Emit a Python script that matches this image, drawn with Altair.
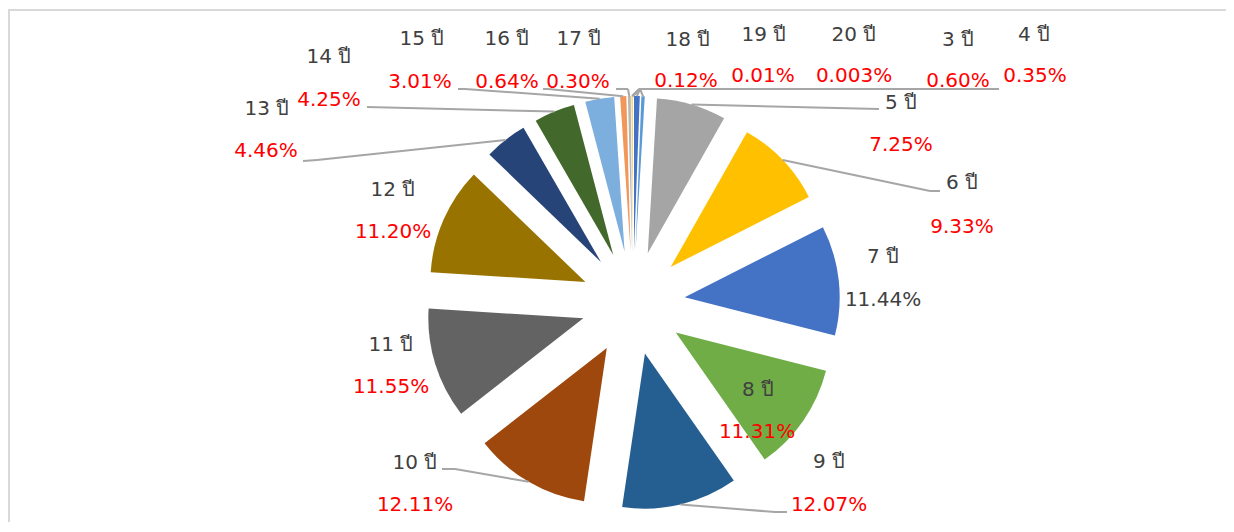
import altair as alt
import pandas as pd

# ---- data ----
categories = ["3 ปี", "4 ปี", "5 ปี", "6 ปี", "7 ปี", "8 ปี", "9 ปี", "10 ปี", "11 ปี",
              "12 ปี", "13 ปี", "14 ปี", "15 ปี", "16 ปี", "17 ปี", "18 ปี", "19 ปี", "20 ปี"]
values = [0.60, 0.35, 7.25, 9.33, 11.44, 11.31, 12.07, 12.11, 11.55,
          11.20, 4.46, 4.25, 3.01, 0.64, 0.30, 0.12, 0.01, 0.003]
pct_labels = ["0.60%", "0.35%", "7.25%", "9.33%", "11.44%", "11.31%", "12.07%", "12.11%", "11.55%",
              "11.20%", "4.46%", "4.25%", "3.01%", "0.64%", "0.30%", "0.12%", "0.01%", "0.003%"]

# ---- styles ----
colors = ["#4472C4", "#5B9BD5", "#A5A5A5", "#FFC000", "#4472C4", "#70AD47", "#255E91", "#9E480E",
          "#636363", "#997300", "#264478", "#43682B", "#7CAFDD", "#F1975A", "#B7B7B7", "#FFCD33",
          "#7CAFDD", "#8CC168"]
pct_colors = ["#FF0000"] * 18
pct_colors[4] = "#404040"

# ---- layout (page pixel positions of labels / leader ends) ----
OFF = 8
name_xy = [(958, 40), (1034, 35), (901, 103), (962, 183), (883, 257), (758, 390), (829, 462),
           (415, 463), (391, 345), (393, 190), (267, 109), (329, 57), (422, 39), (507, 39),
           (579, 39), (688, 40), (764, 35), (854, 35)]
pct_xy = [(958, 81), (1035, 76), (901, 145), (962, 227), (883, 300), (757, 432), (829, 505),
          (415, 505), (391, 387), (393, 232), (266, 151), (329, 100), (420, 82), (507, 82),
          (578, 82), (686, 81), (763, 76), (854, 76)]
elbow_xy = [(640, 89), (640, 89), (879, 109), (930, 191), None, None, (775, 512),
            (455, 469), None, None, (317, 160), (367, 107), (465, 89), (548, 89),
            (628, 89), (639, 89), (640, 89), (640, 89)]
end_xy = [(923, 89), (999, 89), (879, 109), (940, 191), None, None, (787, 512),
          (442, 469), None, None, (303, 161), (367, 107), (458, 89), (543, 89),
          (616, 89), (652, 89), (728, 89), (813, 89)]

CX, CY, R, D = 633 - OFF, 303 - OFF, 155, 52

df = pd.DataFrame({
    "cat": categories,
    "value": values,
    "idx": list(range(len(categories))),
    "color": colors,
    "pct": pct_labels,
    "pcolor": pct_colors,
    "nx": [p[0] - OFF for p in name_xy],
    "ny": [p[1] - OFF for p in name_xy],
    "px": [p[0] - OFF for p in pct_xy],
    "py": [p[1] - OFF for p in pct_xy],
    "bx": [p[0] - OFF if p else None for p in elbow_xy],
    "by": [p[1] - OFF if p else None for p in elbow_xy],
    "ex": [p[0] - OFF if p else None for p in end_xy],
    "ey": [p[1] - OFF if p else None for p in end_xy],
})

base = (
    alt.Chart(df)
    .transform_window(cum="sum(value)", sort=[alt.SortField("idx")], frame=[None, 0])
    .transform_joinaggregate(total="sum(value)")
    .transform_calculate(
        t0="2*PI*(datum.cum - datum.value)/datum.total",
        t1="2*PI*datum.cum/datum.total",
    )
    .transform_calculate(mid="(datum.t0 + datum.t1)/2")
    .transform_calculate(
        cx=f"{CX} + {D}*sin(datum.mid)",
        cy=f"{CY} - {D}*cos(datum.mid)",
        sx=f"{CX} + {D + R}*sin(datum.mid)",
        sy=f"{CY} - {D + R}*cos(datum.mid)",
    )
)

arcs = base.mark_arc(radius=R).encode(
    x=alt.X("cx:Q", scale=None, axis=None),
    y=alt.Y("cy:Q", scale=None, axis=None),
    theta=alt.Theta("t0:Q", scale=None, stack=None),
    theta2=alt.Theta2("t1:Q"),
    color=alt.Color("color:N", scale=None),
)

lead = base.transform_filter("isValid(datum.ex)")
lead1 = lead.mark_rule(color="#A6A6A6", strokeWidth=2).encode(
    x=alt.X("sx:Q", scale=None, axis=None), y=alt.Y("sy:Q", scale=None, axis=None),
    x2="bx:Q", y2="by:Q",
)
lead2 = lead.mark_rule(color="#A6A6A6", strokeWidth=2).encode(
    x=alt.X("bx:Q", scale=None, axis=None), y=alt.Y("by:Q", scale=None, axis=None),
    x2="ex:Q", y2="ey:Q",
)

FONT = "DejaVu Sans"
names = alt.Chart(df).mark_text(font=FONT, fontSize=20, color="#404040", baseline="middle", align="center").encode(
    x=alt.X("nx:Q", scale=None, axis=None), y=alt.Y("ny:Q", scale=None, axis=None), text="cat:N",
)
pcts = alt.Chart(df).mark_text(font=FONT, fontSize=20, baseline="middle", align="center").encode(
    x=alt.X("px:Q", scale=None, axis=None), y=alt.Y("py:Q", scale=None, axis=None), text="pct:N",
    color=alt.Color("pcolor:N", scale=None),
)

frame_top = alt.Chart(df).mark_rule(color="#D9D9D9", strokeWidth=2).encode(
    x=alt.value(0), x2=alt.value(1226), y=alt.value(2),
)
frame_left = alt.Chart(df).mark_rule(color="#D9D9D9", strokeWidth=2).encode(
    x=alt.value(1), y=alt.value(1), y2=alt.value(516),
)

chart = alt.layer(frame_top, frame_left, arcs, lead1, lead2, names, pcts).properties(
    width=1218, height=514, padding=0, autosize="none",
).configure_view(stroke=None)

chart.save("out.html", embed_options={"renderer": "svg", "actions": False})
